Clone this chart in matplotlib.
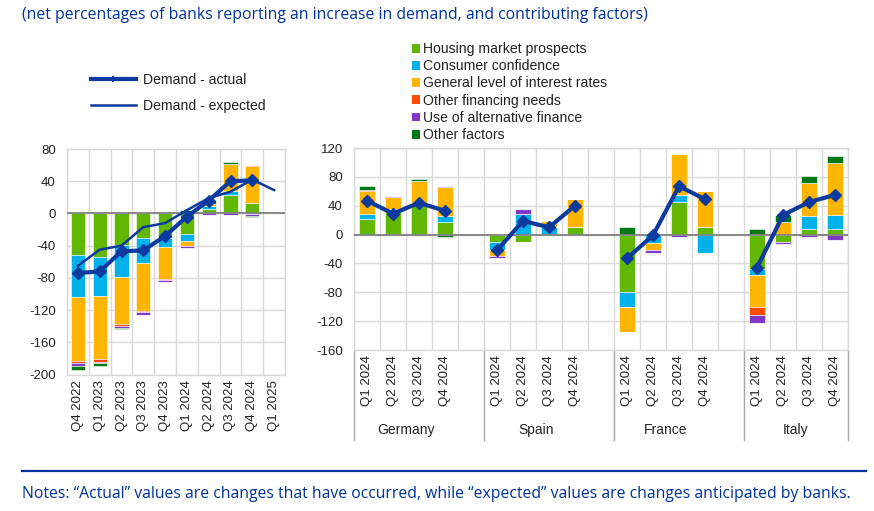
import matplotlib
matplotlib.use("Agg")
import matplotlib.pyplot as plt
import numpy as np
from matplotlib.lines import Line2D
from matplotlib.patches import Patch

plt.rcParams['font.family'] = ['Liberation Sans', 'DejaVu Sans']
plt.rcParams['axes.unicode_minus'] = False

# ---------------- data ----------------
factors = ["Housing market prospects", "Consumer confidence", "General level of interest rates",
           "Other financing needs", "Use of alternative finance", "Other factors"]
colors = ["#62B800", "#00B1EA", "#FFB400", "#FF4B00", "#8139C6", "#007816"]

# Left panel (euro area)
left_cats = ["Q4 2022", "Q1 2023", "Q2 2023", "Q3 2023", "Q4 2023",
             "Q1 2024", "Q2 2024", "Q3 2024", "Q4 2024", "Q1 2025"]
left_housing = [-51, -54, -39, -31, -30, -25, 6, 23, 13, np.nan]
left_confidence = [-53, -49, -40, -30, -12, -9, 3, 5, -1, np.nan]
left_rates = [-79, -78, -58, -60, -40, -7, 3, 33, 46, np.nan]
left_other_fin = [-3, -3, -3, -2, -1, 0, 0, 0, 1, np.nan]
left_alt_fin = [-3, -2, -2, -3, -2, -2, -2, -2, -2, np.nan]
left_other = [-5, -3, -2, 0, 2, 4, 3, 3, -1.5, np.nan]
left_actual = [-74, -72, -47, -46, -28, -4, 16, 40, 41, np.nan]
left_expected = [-65, -45, -40, -17, -12, 4, 19, 27, 42, 29]

# Right panel (countries)
countries = ["Germany", "Spain", "France", "Italy"]
quarters = ["Q1 2024", "Q2 2024", "Q3 2024", "Q4 2024"]
right_housing = {"Germany": [21, 33, 41, 18], "Spain": [-10, -10, 0, 10],
                 "France": [-80, 0, 45, 11], "Italy": [-48, -10, 8, 8]}
right_confidence = {"Germany": [8, 3, 0, 8], "Spain": [-11, 29, 10, 0],
                    "France": [-21, -11, 10, -25], "Italy": [-8, 0, 18, 19]}
right_rates = {"Germany": [31, 16, 33, 40], "Spain": [-9, 0, 9, 39],
               "France": [-34, -11, 57, 50], "Italy": [-45, 18, 46, 72]}
right_other_fin = {"Germany": [2, 0, 0, 0], "Spain": [0, 0, 0, 0],
                   "France": [0, 0, 0, 0], "Italy": [-10, 0, 0, 0]}
right_alt_fin = {"Germany": [0, 2, -2, 2], "Spain": [-3, 7, 0, 0],
                 "France": [0, -3, -3, 0], "Italy": [-11, -3, -4, -7]}
right_other = {"Germany": [5, 0, 3, -3], "Spain": [0, 0, 0, 0],
               "France": [10, 0, 0, 0], "Italy": [8, 9, 9, 10]}
right_actual = {"Germany": [47, 29, 44, 33], "Spain": [-22, 19, 10, 40],
                "France": [-33, -1, 67, 49], "Italy": [-46, 27, 45, 55]}

title = "(net percentages of banks reporting an increase in demand, and contributing factors)"
note = "Notes: \u201cActual\u201d values are changes that have occurred, while \u201cexpected\u201d values are changes anticipated by banks."

ECB_BLUE = "#003299"
LINE_BLUE = "#0D3A9E"
GRID = "#D9D9D9"
TXT = "#222222"
FS = 9.5
LFS = 10.1


def stacked(ax, x, series_list, width):
    series = [np.array(s, dtype=float) for s in series_list]
    pos_base = np.zeros(len(x))
    neg_base = np.zeros(len(x))
    for s, c in zip(series, colors):
        v = np.nan_to_num(s)
        pos = np.where(v > 0, v, 0)
        neg = np.where(v < 0, v, 0)
        ax.bar(x, pos, width, bottom=pos_base, color=c, edgecolor="white", linewidth=0.4, zorder=2)
        ax.bar(x, neg, width, bottom=neg_base, color=c, edgecolor="white", linewidth=0.4, zorder=2)
        pos_base += pos
        neg_base += neg


def style_axis(ax, n):
    ax.set_xlim(-0.5, n - 0.5)
    ax.set_xticks(np.arange(n))
    ax.set_xticks(np.arange(n + 1) - 0.5, minor=True)
    ax.grid(True, which="minor", axis="x", color=GRID, lw=1.0, zorder=0)
    ax.grid(True, which="major", axis="y", color=GRID, lw=1.0, zorder=0)
    ax.tick_params(which="both", length=0)
    ax.tick_params(axis="y", labelsize=FS, colors=TXT, pad=8)
    for sp in ax.spines.values():
        sp.set_color(GRID)
        sp.set_linewidth(1.0)
    ax.axhline(0, color="#808080", lw=1.3, zorder=3)


fig = plt.figure(figsize=(8.74, 5.11), dpi=100)

# ---------- left panel ----------
ax1 = fig.add_axes([67 / 874, 1 - 374.5 / 511, 218 / 874, 225.5 / 511])
xl = np.arange(len(left_cats))
stacked(ax1, xl, [left_housing, left_confidence, left_rates, left_other_fin, left_alt_fin, left_other], 0.66)
ax1.plot(xl, left_expected, color=LINE_BLUE, lw=1.8, zorder=4)
ax1.plot(xl, left_actual, color=LINE_BLUE, lw=3.0, marker="D", ms=6, zorder=5)
style_axis(ax1, len(left_cats))
ax1.set_ylim(-200, 80)
ax1.set_yticks(np.arange(-200, 81, 40))
ax1.set_xticklabels(left_cats, rotation=90, fontsize=FS, color=TXT)
ax1.tick_params(axis="x", pad=4)

# ---------- right panel ----------
ax2 = fig.add_axes([354 / 874, 1 - 350 / 511, 494 / 874, 202 / 511])
n_slots = 19
xpos = []
for gi in range(len(countries)):
    xpos.append(np.arange(4) + gi * 5)


def flat(d):
    return [v for c in countries for v in d[c]]


xr = np.concatenate(xpos)
stacked(ax2, xr, [flat(right_housing), flat(right_confidence), flat(right_rates),
                  flat(right_other_fin), flat(right_alt_fin), flat(right_other)], 0.64)
for gi, c in enumerate(countries):
    ax2.plot(xpos[gi], right_actual[c], color=LINE_BLUE, lw=3.0, marker="D", ms=6, zorder=5)
style_axis(ax2, n_slots)
ax2.set_ylim(-160, 120)
ax2.set_yticks(np.arange(-160, 121, 40))
ax2.set_xticks(xr)
ax2.set_xticklabels(quarters * len(countries), rotation=90, fontsize=FS, color=TXT)
ax2.tick_params(axis="x", pad=4)

trans = ax2.get_xaxis_transform()
for b in [-0.5, 4.5, 9.5, 14.5, 18.5]:
    ax2.plot([b, b], [0, -0.445], transform=trans, color="#A6A6A6", lw=1.0, clip_on=False)
for gi, c in enumerate(countries):
    ax2.text(gi * 5 + 1.5, -0.395, c, transform=trans, ha="center", va="center",
             fontsize=FS + 0.5, color=TXT)

# ---------- legends ----------
line_handles = [Line2D([0], [0], color=LINE_BLUE, lw=3.0, marker="|", ms=5, mew=1.5),
                Line2D([0], [0], color=LINE_BLUE, lw=1.8)]
fig.legend(line_handles, ["Demand - actual", "Demand - expected"], loc="upper left",
           bbox_to_anchor=(91 / 874, 1 - 73 / 511), frameon=False, fontsize=LFS,
           handlelength=3.2, handletextpad=0.5, labelspacing=0.86, borderpad=0, borderaxespad=0,
           labelcolor=TXT)

bar_handles = [Patch(facecolor=c, edgecolor="none") for c in colors]
fig.legend(bar_handles, factors, loc="upper left", bbox_to_anchor=(412 / 874, 1 - 42 / 511),
           frameon=False, fontsize=LFS, handlelength=0.55, handleheight=0.6, handletextpad=0.2,
           labelspacing=0.23, borderpad=0, borderaxespad=0, labelcolor=TXT)

# ---------- title / notes ----------
fig.text(22 / 874, 1 - 15 / 511, title, fontsize=11.3, color=ECB_BLUE, family=["Open Sans", "DejaVu Sans"],
         ha="left", va="center")
fig.add_artist(Line2D([22 / 874, 866 / 874], [1 - 471 / 511, 1 - 471 / 511], color=ECB_BLUE, lw=1.6))
fig.text(22 / 874, 1 - 494 / 511, note, fontsize=11.3, color=ECB_BLUE, family=["Open Sans", "DejaVu Sans"],
         ha="left", va="center")

fig.savefig("out.png", dpi=100, facecolor="white")
